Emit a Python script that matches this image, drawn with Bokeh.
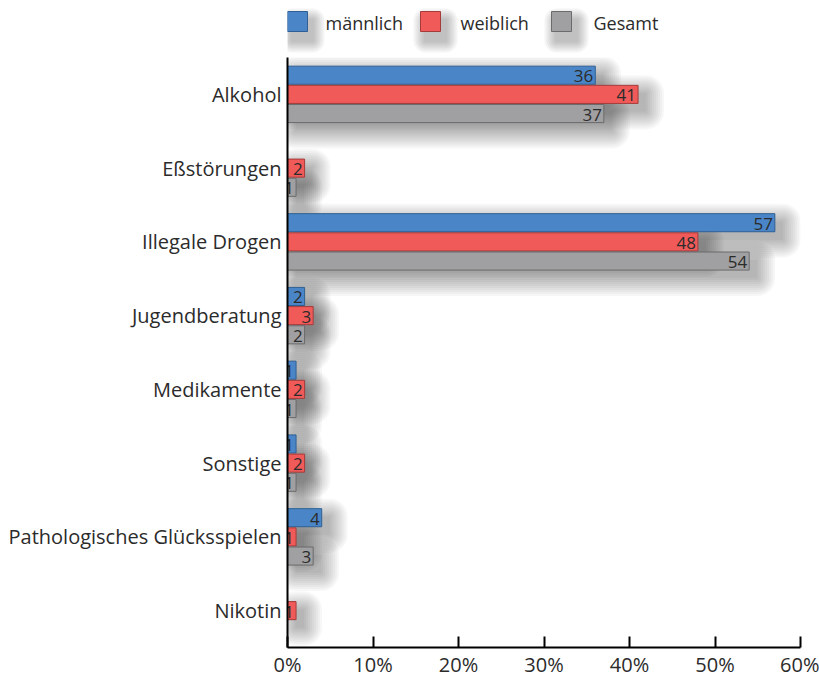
import numpy as np
from bokeh.plotting import figure
from bokeh.layouts import column
from bokeh.models import ColumnDataSource, Range1d, FixedTicker
from bokeh.core.properties import value
from bokeh.embed import file_html
from bokeh.resources import INLINE

# --- data -----------------------------------------------------------------
categories = ["Alkohol", "Eßstörungen", "Illegale Drogen", "Jugendberatung",
              "Medikamente", "Sonstige", "Pathologisches Glücksspielen", "Nikotin"]
maennlich = [36, None, 57, 2, 1, 1, 4, None]
weiblich = [41, 2, 48, 3, 2, 2, 1, 1]
gesamt = [37, 1, 54, 2, 1, 1, 3, None]
series_names = ["männlich", "weiblich", "Gesamt"]
x_ticks = [0, 10, 20, 30, 40, 50, 60]

# --- styling --------------------------------------------------------------
FONT = "Open Sans"
TEXT = "#2b2b2b"
fills = ["#4a86c7", "#f05b5a", "#a0a0a2"]
edges = ["#2f5f93", "#a43c3b", "#6b6b6d"]
offsets = [0.26, 0.0, -0.26]       # vertical position of each series inside a group
bar_h = 0.245

W, H_LEG, H_CHART = 819, 57, 624
BORDER_L, BORDER_R, BORDER_B = 287, 19, 34
frame_w = W - BORDER_L - BORDER_R
frame_h = H_CHART - BORDER_B
n = len(categories)
px_x = 60.0 / frame_w      # data units per pixel
px_y = float(n) / frame_h

# blur steps for the soft drop shadows (pixels of spread, outermost first)
blur_steps = [18, 16, 14, 12, 10, 8, 6, 4, 2, 0]
blur_alpha = 0.032

# --- chart ----------------------------------------------------------------
p = figure(width=W, height=H_CHART, x_range=Range1d(0, 60), y_range=Range1d(0, n),
           output_backend="svg", toolbar_location=None,
           min_border_left=BORDER_L, min_border_right=BORDER_R,
           min_border_top=0, min_border_bottom=BORDER_B)
p.outline_line_color = None
p.grid.grid_line_color = None
p.background_fill_color = "white"

centers = [n - i - 0.5 for i in range(n)]

series = [maennlich, weiblich, gesamt]
sources = []
for vals, off in zip(series, offsets):
    xs, ys, labels = [], [], []
    for c, v in zip(centers, vals):
        if v is None:
            continue
        xs.append(v)
        ys.append(c + off)
        labels.append(str(v))
    sources.append(ColumnDataSource(dict(x=xs, y=ys, label=labels)))

# soft drop shadow: stacked translucent rounded boxes growing outwards
sh_dx, sh_dy = 8 * px_x, -8 * px_y
for src in sources:
    d = src.data
    for e in blur_steps:
        ex, ey = e * px_x, e * px_y
        left = [sh_dx - ex] * len(d["x"])
        right = [x + sh_dx + ex for x in d["x"]]
        top = [y + bar_h / 2 + sh_dy + ey for y in d["y"]]
        bottom = [y - bar_h / 2 + sh_dy - ey for y in d["y"]]
        p.quad(left=left, right=right, top=top, bottom=bottom,
               fill_color="black", fill_alpha=blur_alpha, line_color=None,
               border_radius=e)

for src, fc, lc in zip(sources, fills, edges):
    p.hbar(y="y", right="x", left=0, height=bar_h, source=src,
           fill_color=fc, line_color=lc, line_width=1)
    p.text(x="x", y="y", text="label", source=src, x_offset=-2, y_offset=1,
           text_align="right", text_baseline="middle",
           text_font=value(FONT), text_font_size="17px", text_color=TEXT)

# axes
p.xaxis.ticker = FixedTicker(ticks=x_ticks)
p.xaxis.major_label_overrides = {t: f"{t}%" for t in x_ticks}
p.xaxis.major_tick_in = 11
p.xaxis.major_tick_out = 0
p.xaxis.minor_tick_line_color = None
p.xaxis.axis_line_width = 2
p.xaxis.major_tick_line_width = 2
p.xaxis.axis_line_color = "black"
p.xaxis.major_tick_line_color = "black"
p.xaxis.major_label_text_font = FONT
p.xaxis.major_label_text_font_size = "20px"
p.xaxis.major_label_text_color = TEXT
p.xaxis.major_label_standoff = 3

p.yaxis.ticker = FixedTicker(ticks=centers)
p.yaxis.major_label_overrides = {c: cat for c, cat in zip(centers, categories)}
p.yaxis.major_tick_in = 0
p.yaxis.major_tick_out = 0
p.yaxis.minor_tick_line_color = None
p.yaxis.axis_line_width = 2
p.yaxis.axis_line_color = "black"
p.yaxis.major_label_text_font = FONT
p.yaxis.major_label_text_font_size = "20px"
p.yaxis.major_label_text_color = TEXT
p.yaxis.major_label_standoff = 6

# --- legend strip (frame aligned with the chart, coordinates in page pixels) --
leg = figure(width=W, height=H_LEG, x_range=Range1d(BORDER_L, W - BORDER_R),
             y_range=Range1d(H_LEG, 0),
             output_backend="svg", toolbar_location=None,
             x_axis_type=None, y_axis_type=None,
             min_border_left=BORDER_L, min_border_right=BORDER_R,
             min_border_top=0, min_border_bottom=0)
leg.outline_line_color = None
leg.grid.grid_line_color = None

box_x = [287, 420, 551]
text_x = [325, 460, 593]
box_top, box_size = 11, 20
for e in [12, 10, 8, 6, 4, 2]:
    leg.quad(left=[x + 5 - e for x in box_x], right=[x + box_size + 5 + e for x in box_x],
             top=[box_top + 9 - e] * 3, bottom=[box_top + box_size + 9 + e] * 3,
             fill_color="black", fill_alpha=0.045, line_color=None, border_radius=e)
leg.quad(left=box_x, right=[x + box_size for x in box_x],
         top=[box_top] * 3, bottom=[box_top + box_size] * 3,
         fill_color=fills, line_color=edges, line_width=1)
leg.text(x=text_x, y=[box_top + box_size / 2 + 1] * 3, text=series_names,
         text_align="left", text_baseline="middle",
         text_font=value(FONT), text_font_size="18px", text_color=TEXT)

layout = column(leg, p, spacing=0)
open("out.html", "w").write(file_html(layout, INLINE))
